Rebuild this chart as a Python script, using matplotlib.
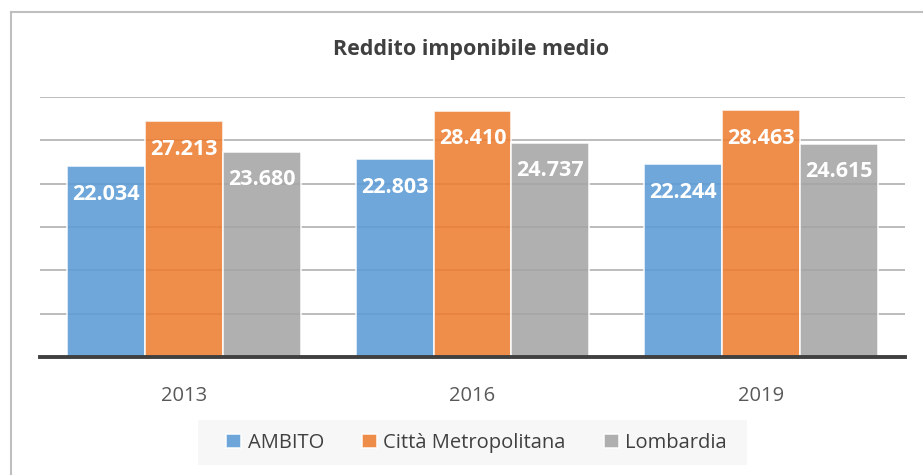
import numpy as np
import matplotlib.pyplot as plt
from matplotlib.lines import Line2D
from matplotlib.patches import Rectangle

anni = ["2013", "2016", "2019"]
serie = ["AMBITO", "Città Metropolitana", "Lombardia"]
ambito = [22034, 22803, 22244]
citta_metro = [27213, 28410, 28463]
lombardia = [23680, 24737, 24615]
colori = ["#5b9bd5", "#ed7d31", "#a5a5a5"]

plt.rcParams['font.family'] = ['Open Sans', 'DejaVu Sans']

W, H = 923, 475
fig = plt.figure(figsize=(W / 100, H / 100), dpi=100)
ax = fig.add_axes([40 / W, 1 - 357 / H, 865 / W, 260 / H])

x = np.arange(len(anni))
w = 0.27
valori = [ambito, citta_metro, lombardia]
for i, (nome, vals, col) in enumerate(zip(serie, valori, colori)):
    pos = x + (i - 1) * w
    bars = ax.bar(pos, vals, width=w, color=col, alpha=0.88, edgecolor="white",
                  linewidth=1.2, label=nome, zorder=2)
    for b, v in zip(bars, vals):
        testo = f"{v:,}".replace(",", ".")
        ax.annotate(testo, (b.get_x() + b.get_width() / 2, v), xytext=(0, -28),
                    textcoords="offset pixels", ha="center", va="center",
                    color="white", fontsize=15.5, fontweight="bold", zorder=3)

ax.set_ylim(0, 30000)
ax.set_xlim(-0.5, 2.5)
ax.set_yticks(np.arange(0, 30001, 5000))
ax.yaxis.grid(True, color="#b0b0b0", linewidth=1.2, zorder=1)
ax.set_axisbelow(True)
ax.tick_params(axis="y", left=False, labelleft=False)
ax.tick_params(axis="x", length=0, pad=21, labelsize=14.5, labelcolor="#595959")
ax.set_xticks(x)
ax.set_xticklabels(anni)
for s in ["top", "right", "left"]:
    ax.spines[s].set_visible(False)
ax.spines["bottom"].set_color("#404040")
ax.spines["bottom"].set_linewidth(2.8)
ax.spines["bottom"].set_zorder(4)

fig.text(471 / W, 1 - 49 / H, "Reddito imponibile medio", ha="center", va="center",
         fontsize=15.5, fontweight="bold", color="#404040")

# sfondo della legenda
fig.add_artist(Rectangle((198 / W, 1 - 465 / H), 549 / W, 45 / H, facecolor="#f7f7f7",
                         edgecolor="none", transform=fig.transFigure, zorder=0))
leg = fig.legend(loc="center", bbox_to_anchor=(476.5 / W, 1 - 443 / H), ncol=3,
                 frameon=False, fontsize=14.5, handlelength=0.75, handleheight=0.75,
                 handletextpad=0.3, columnspacing=1.9, borderpad=0.3)
for t in leg.get_texts():
    t.set_color("#404040")

# cornice del grafico
fig.add_artist(Line2D([10.5 / W, 10.5 / W], [0, 1 - 11.5 / H], color="#bfbfbf",
                      linewidth=1.5, transform=fig.transFigure))
fig.add_artist(Line2D([10.5 / W, 1], [1 - 11.5 / H, 1 - 11.5 / H], color="#bfbfbf",
                      linewidth=1.5, transform=fig.transFigure))

fig.savefig("out.png", dpi=100, facecolor="white")
